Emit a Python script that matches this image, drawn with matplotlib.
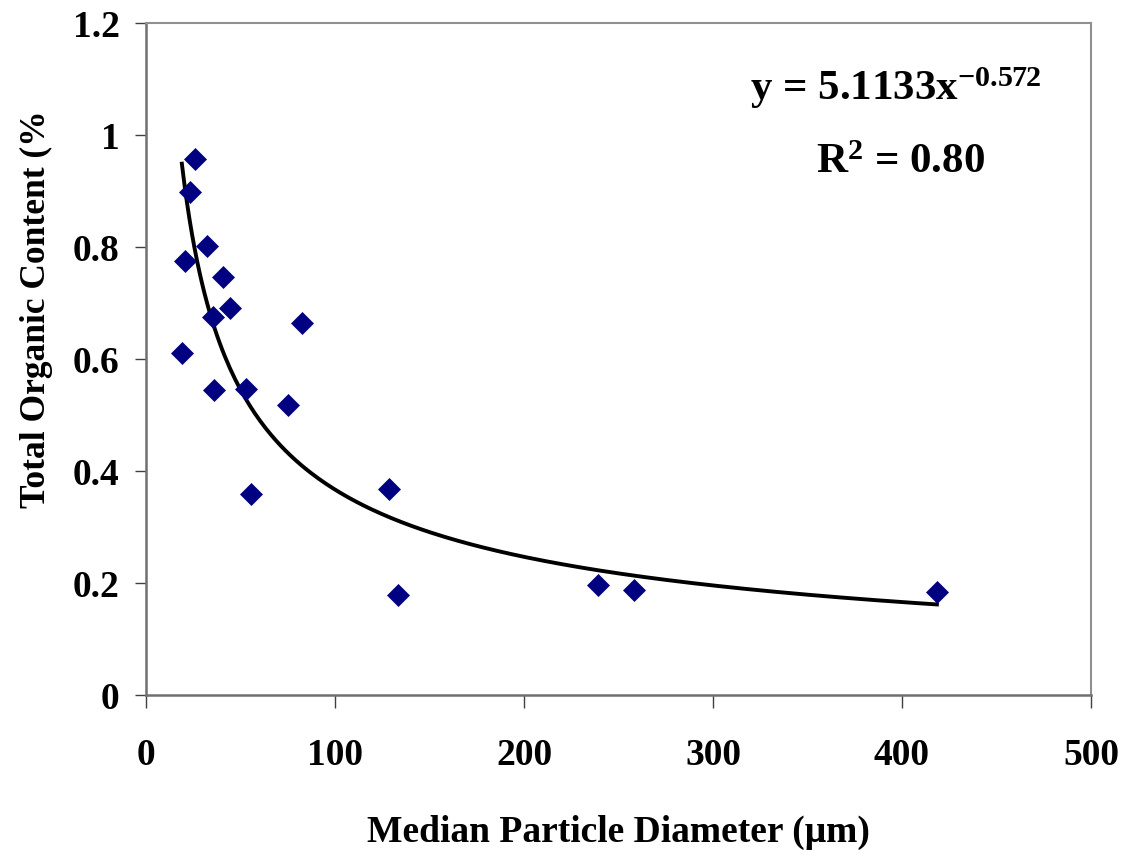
import matplotlib

matplotlib.use('Agg')
import numpy as np
import matplotlib.pyplot as plt
import matplotlib.ticker as ticker

# Median particle diameter (um) and total organic content (%)
diameter = [25.9, 23.3, 20.6, 32.3, 40.7, 35.4, 44.4, 82.5, 19.0,
            36.0, 52.9, 75.1, 55.6, 128.6, 133.3, 239.2, 258.2, 418.5]
organic = [0.957, 0.898, 0.775, 0.802, 0.746, 0.675, 0.691, 0.664, 0.611,
           0.545, 0.546, 0.518, 0.359, 0.368, 0.179, 0.196, 0.1875, 0.184]

# power trendline as printed on the chart
fit_a = 5.1133
fit_b = -0.572
fit_r2 = 0.80

x_ticks = [0, 100, 200, 300, 400, 500]
y_ticks = [0, 0.2, 0.4, 0.6, 0.8, 1.0, 1.2]

plt.rcParams.update({
    'font.family': 'Liberation Serif',
    'font.weight': 'bold',
    'axes.labelweight': 'bold',
    'mathtext.fontset': 'custom',
    'mathtext.rm': 'Liberation Serif:bold',
    'mathtext.bf': 'Liberation Serif:bold',
    'mathtext.it': 'Liberation Serif:bold',
})

fig = plt.figure(figsize=(11.27, 8.56), dpi=100)
ax = fig.add_axes([0.1295, 0.188, 0.8385, 0.785])

xs = np.linspace(min(diameter), max(diameter), 300)
ax.plot(xs, fit_a * xs ** fit_b, color='black', linewidth=2.8, zorder=2)
ax.plot(diameter, organic, linestyle='none', marker='D', markersize=11.5,
        color='#000080', markeredgewidth=0.5, zorder=3)

ax.set_xlim(0, 500)
ax.set_ylim(0, 1.2)
ax.xaxis.set_major_locator(ticker.FixedLocator(x_ticks))
ax.yaxis.set_major_locator(ticker.FixedLocator(y_ticks))
ax.yaxis.set_major_formatter(ticker.FuncFormatter(lambda v, p: '%g' % v))

for side in ['top', 'right']:
    ax.spines[side].set_color('#909090')
    ax.spines[side].set_linewidth(1.5)
for side in ['left', 'bottom']:
    ax.spines[side].set_color('#707070')
    ax.spines[side].set_linewidth(1.8)

ax.tick_params(axis='x', direction='out', length=9, width=1, color='#404040',
               labelsize=27, pad=22)
ax.tick_params(axis='y', direction='out', length=8, width=1, color='#404040',
               labelsize=27, pad=11)

ax.set_xlabel('Median Particle Diameter (\u03bcm)', fontsize=27, labelpad=30)
ax.set_ylabel('Total Organic Content (%', fontsize=25.5)
ax.yaxis.set_label_coords(-0.098, 0.574)

ax.text(0.794, 0.885, r'y = %.4fx$^{\mathrm{%.3f}}$' % (fit_a, fit_b),
        transform=ax.transAxes, ha='center', va='baseline', fontsize=31)
ax.text(0.799, 0.777, r'R$^{\mathrm{2}}$ = %.2f' % fit_r2,
        transform=ax.transAxes, ha='center', va='baseline', fontsize=31)

plt.savefig('out.png', dpi=100)
